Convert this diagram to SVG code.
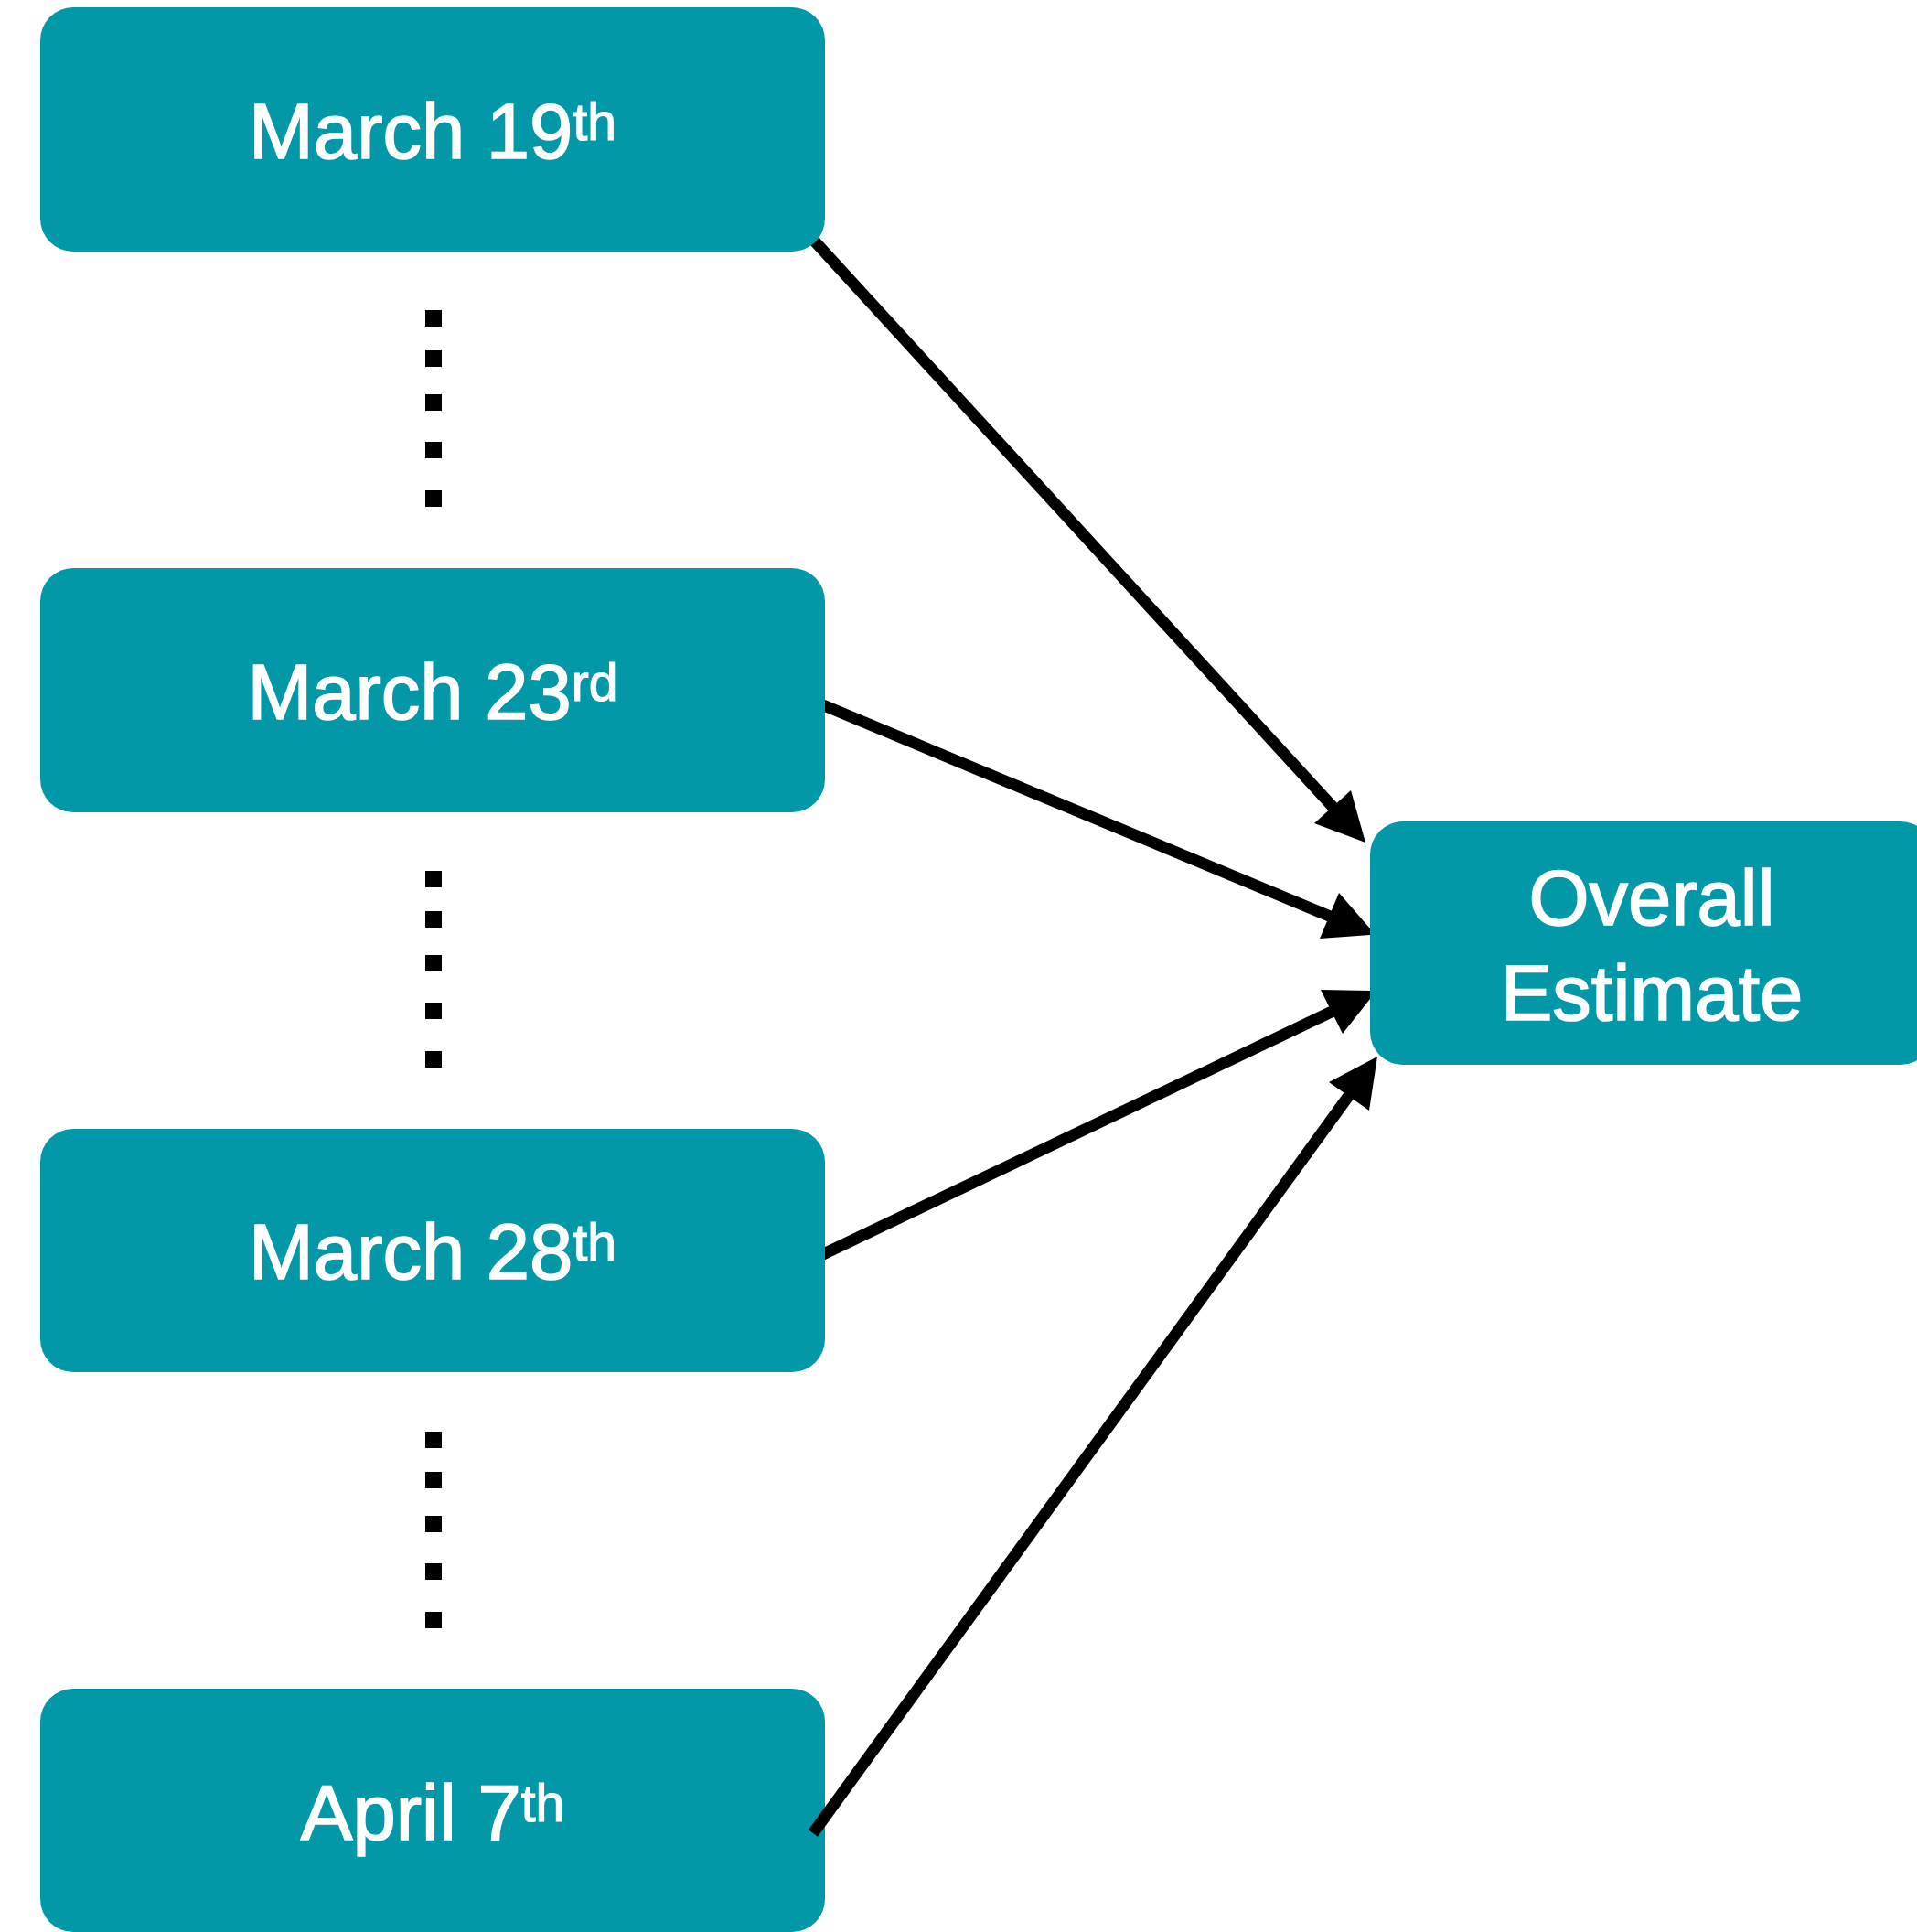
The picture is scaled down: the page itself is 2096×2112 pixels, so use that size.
<svg xmlns="http://www.w3.org/2000/svg" width="2096" height="2112" viewBox="0 0 2096 2112">
  <style>
    .box { fill: #0298A8; }
    .lbl { font-family: "Liberation Sans", Arial, Helvetica, sans-serif; font-size: 85px; fill: #ffffff; stroke: #ffffff; stroke-width: 1.6px; text-anchor: middle; }
    .sup { font-size: 57px; stroke-width: 1.2px; }
    .edge { stroke: #000000; stroke-width: 12.5; fill: none; }
    .head { fill: #000000; stroke: none; }
    .dot { fill: #000000; }
  </style>
  <rect width="2096" height="2112" fill="#ffffff"/>
  <g id="connectors">
    <line class="edge" x1="880" y1="252" x2="1459" y2="884"/>
    <polygon class="head" points="1477,864 1493,921 1437,900"/>
    <line class="edge" x1="898" y1="770" x2="1455" y2="1002"/>
    <polygon class="head" points="1464,976 1498,1015 1498,1022 1443,1026"/>
    <line class="edge" x1="898" y1="1372" x2="1458" y2="1105"/>
    <polygon class="head" points="1444,1082 1498,1083 1498,1092 1468,1130"/>
  </g>
  <g id="node-mar19">
    <rect class="box" x="44" y="8" width="858" height="267" rx="36" ry="36"/>
    <text class="lbl" x="473" y="173">March 19<tspan class="sup" dy="-20">th</tspan></text>
  </g>
  <g id="node-mar23">
    <rect class="box" x="44" y="621" width="858" height="267" rx="36" ry="36"/>
    <text class="lbl" x="473" y="786">March 23<tspan class="sup" dy="-20">rd</tspan></text>
  </g>
  <g id="node-mar28">
    <rect class="box" x="44" y="1234" width="858" height="266" rx="36" ry="36"/>
    <text class="lbl" x="473" y="1398">March 28<tspan class="sup" dy="-20">th</tspan></text>
  </g>
  <g id="node-apr7">
    <rect class="box" x="44" y="1846" width="858" height="266" rx="36" ry="36"/>
    <text class="lbl" x="473" y="2011">April 7<tspan class="sup" dy="-20">th</tspan></text>
  </g>
  <g id="node-overall">
    <rect class="box" x="1498" y="898" width="616" height="266" rx="36" ry="36"/>
    <text class="lbl" x="1806" y="1011">Overall</text>
    <text class="lbl" x="1806" y="1115">Estimate</text>
  </g>
  <g id="ellipses">
    <rect class="dot" x="465" y="339" width="18" height="18"/>
    <rect class="dot" x="465" y="383" width="18" height="18"/>
    <rect class="dot" x="465" y="431" width="18" height="18"/>
    <rect class="dot" x="465" y="483" width="18" height="18"/>
    <rect class="dot" x="465" y="536" width="18" height="18"/>
    <rect class="dot" x="465" y="952" width="18" height="18"/>
    <rect class="dot" x="465" y="996" width="18" height="18"/>
    <rect class="dot" x="465" y="1044" width="18" height="18"/>
    <rect class="dot" x="465" y="1096" width="18" height="18"/>
    <rect class="dot" x="465" y="1149" width="18" height="18"/>
    <rect class="dot" x="465" y="1565" width="18" height="18"/>
    <rect class="dot" x="465" y="1609" width="18" height="18"/>
    <rect class="dot" x="465" y="1657" width="18" height="18"/>
    <rect class="dot" x="465" y="1709" width="18" height="18"/>
    <rect class="dot" x="465" y="1762" width="18" height="18"/>
  </g>
  <g id="connector-apr7">
    <line class="edge" x1="889" y1="2004" x2="1476" y2="1196"/>
    <polygon class="head" points="1506,1155 1497,1214 1453,1183"/>
  </g>
</svg>
